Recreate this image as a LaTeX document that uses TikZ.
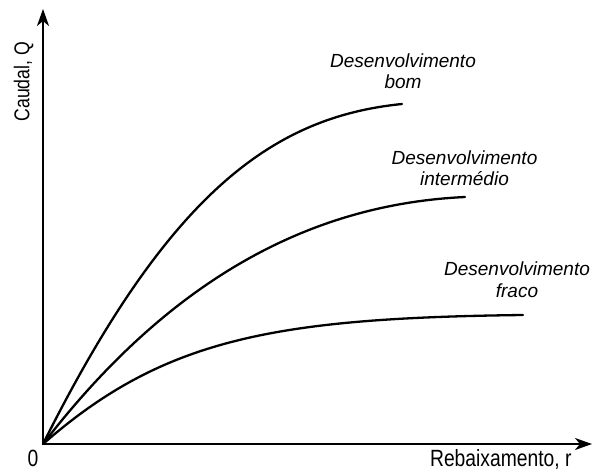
\documentclass[tikz,border=0pt]{standalone}
\usepackage{fontspec}
\setmainfont{Liberation Sans}
\newfontfamily\narrowfont{Liberation Sans}[FakeStretch=0.82]
\usetikzlibrary{arrows.meta}
\tikzset{
  axis/.style={line width=2.2pt, -{Stealth[length=17pt,width=12pt,inset=5pt]}},
  curve/.style={line width=2.3pt, line cap=round, line join=round},
  axlabel/.style={font=\narrowfont\fontsize{23.5}{26}\selectfont, inner sep=0pt},
  ylabel/.style={font=\narrowfont\fontsize{21.5}{24}\selectfont, inner sep=0pt},
  curvelabel/.style={font=\itshape\fontsize{19}{21.3}\selectfont, inner sep=0pt, align=center}
}
\begin{document}
\begin{tikzpicture}[x=1pt,y=-1pt]
\useasboundingbox (0,0) rectangle (592,472);
\coordinate (O) at (43,444);
\coordinate (ytip) at (43,9);
\coordinate (xtip) at (592,444);
\coordinate (ebom) at (402,104);
\coordinate (eint) at (465,197);
\coordinate (efra) at (523,315);
\draw[axis] (O) -- (ytip);
\draw[axis] (O) -- (xtip);
% curves
\draw[curve] (O) .. controls (168,194) and (272,117) .. (ebom);
\draw[curve] (O) .. controls (173,275) and (315,204) .. (eint);
\draw[curve] (O) .. controls (163,339) and (273,318) .. (efra);
% labels
\node[curvelabel, anchor=base] (lbom) at (403,88.3) {Desenvolvimento\\bom};
\node[curvelabel, anchor=base] (lint) at (464.5,185.7) {Desenvolvimento\\intermédio};
\node[curvelabel, anchor=base] (lfra) at (517,297) {Desenvolvimento\\fraco};
\node[axlabel, anchor=base] (zero) at (33,466) {0};
\node[axlabel, anchor=base east] (xlab) at (571.7,466) {Rebaixamento, r};
\node[ylabel, anchor=base, rotate=90] (ylab) at (29.3,81.7) {Caudal, Q};
\end{tikzpicture}
\end{document}
